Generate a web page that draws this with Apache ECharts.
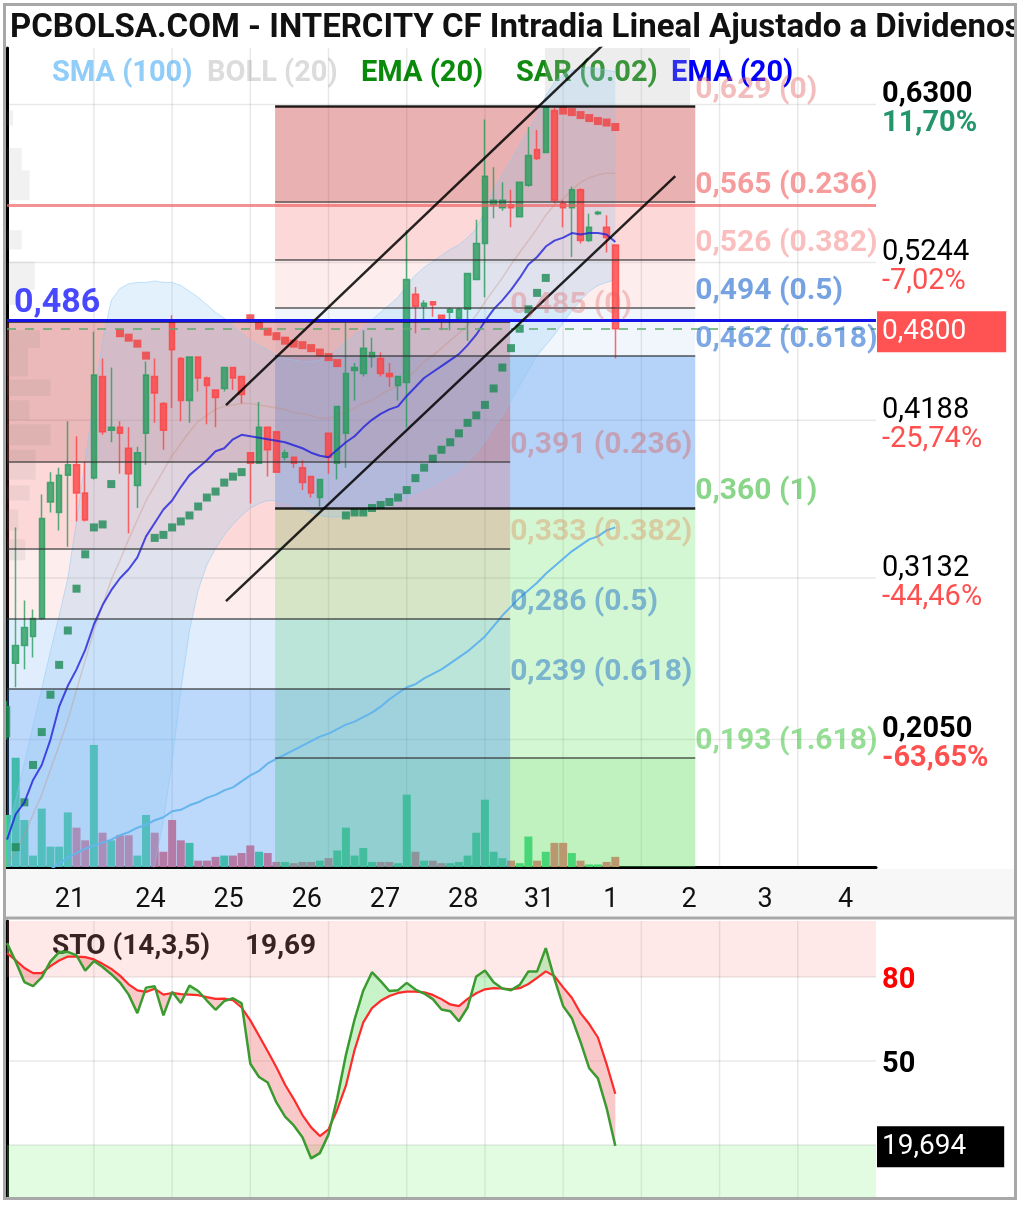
<!DOCTYPE html>
<html><head><meta charset="utf-8">
<script src="https://cdn.jsdelivr.net/npm/echarts@6/dist/echarts.min.js"></script>
<style>html,body{margin:0;padding:0;background:#fff}#c{width:1020px;height:1205px}</style>
</head><body><div id="c"></div>
<script>
// ---------- categories / ticks ----------
const dayLabels = ['21','24','25','26','27','28','31','1','2','3','4'];
const dayLabelPos = [7.25,16.5,25.5,34.5,43.5,52.5,61.25,69.5,78.5,87.25,96.5];
const dayGridPos = [10,19,28,37,46,55,64,73,82,91];
const priceTicks = [0.63,0.5244,0.4188,0.3132,0.205];
const priceTickPct = ['11,70%','-7,02%','-25,74%','-44,46%','-63,65%'];
const stoTicks = [80,50];
// ---------- candles ----------
const open = [0.207,0.256,0.268,0.274,0.286,0.364,0.357,0.382,0.389,0.370,
 0.380,0.448,0.412,0.414,0.400,0.375,0.410,0.448,0.430,0.484,
 0.460,0.432,0.461,0.447,0.439,0.440,0.454,0.448,0.397,0.390,
 0.414,0.411,0.394,0.394,0.387,0.381,0.367,0.410,0.390,0.410,
 0.452,0.450,0.461,0.460,0.450,0.442,0.444,0.503,0.495,0.498,
 0.489,0.491,0.487,0.493,0.513,0.537,0.563,0.561,0.563,0.555,
 0.576,0.600,0.598,0.626,0.564,0.561,0.573,0.539,0.557,0.548,0.536];
const close = [0.227,0.268,0.280,0.286,0.353,0.377,0.382,0.389,0.370,0.352,
 0.449,0.411,0.414,0.410,0.383,0.397,0.449,0.437,0.412,0.466,
 0.432,0.461,0.447,0.442,0.434,0.454,0.447,0.436,0.390,0.414,
 0.399,0.384,0.397,0.390,0.377,0.370,0.379,0.394,0.428,0.450,
 0.454,0.467,0.464,0.450,0.448,0.448,0.513,0.495,0.497,0.496,
 0.487,0.493,0.493,0.517,0.537,0.582,0.566,0.566,0.561,0.578,
 0.596,0.594,0.628,0.566,0.561,0.573,0.539,0.548,0.558,0.541,0.480];
const low = [0.205,0.240,0.252,0.260,0.285,0.357,0.345,0.334,0.351,0.351,
 0.379,0.409,0.404,0.383,0.343,0.360,0.389,0.417,0.399,0.427,
 0.418,0.417,0.438,0.416,0.414,0.438,0.439,0.430,0.363,0.390,
 0.381,0.384,0.392,0.387,0.372,0.367,0.361,0.383,0.379,0.387,
 0.432,0.448,0.454,0.448,0.441,0.432,0.414,0.477,0.486,0.488,
 0.479,0.479,0.486,0.472,0.513,0.501,0.554,0.559,0.548,0.555,
 0.575,0.593,0.598,0.564,0.548,0.528,0.537,0.538,0.556,0.531,0.460];
const high = [0.231,0.347,0.298,0.292,0.369,0.384,0.387,0.418,0.408,0.391,
 0.478,0.460,0.454,0.418,0.414,0.401,0.458,0.460,0.431,0.489,
 0.461,0.461,0.461,0.448,0.439,0.454,0.454,0.448,0.397,0.431,
 0.414,0.411,0.399,0.394,0.392,0.381,0.379,0.410,0.428,0.484,
 0.457,0.479,0.474,0.464,0.457,0.448,0.546,0.508,0.499,0.498,
 0.489,0.494,0.494,0.517,0.553,0.620,0.588,0.578,0.573,0.578,
 0.615,0.613,0.629,0.628,0.566,0.575,0.574,0.557,0.559,0.556,0.536];
const volume = [41,86,37,9,46,16,16,43,31,21,96,27,21,25,25,9,41,27,12,37,
 21,19,5,5,8,9,9,11,17,12,11,4,4,3,4,4,5,7,13,31,
 9,15,4,4,4,3,57,12,5,5,3,3,4,9,27,53,12,7,5,3,
 24,5,12,19,19,11,5,2,2,4,8];
// ---------- indicators ----------
const ema20 = [0.138,0.155,0.163,0.178,0.188,0.205,0.227,0.241,0.252,0.265,
 0.282,0.295,0.305,0.313,0.319,0.327,0.341,0.350,0.359,0.365,
 0.374,0.382,0.387,0.392,0.398,0.400,0.406,0.409,0.408,0.407,
 0.406,0.405,0.404,0.402,0.400,0.397,0.395,0.394,0.399,0.404,
 0.408,0.414,0.419,0.423,0.426,0.428,0.435,0.441,0.447,0.451,
 0.455,0.459,0.463,0.469,0.476,0.485,0.493,0.499,0.506,0.514,
 0.523,0.528,0.535,0.539,0.541,0.544,0.543,0.544,0.544,0.543,0.538];
const sma100 = [null,null,null,null,null,0.118,0.122,0.126,0.129,0.132,
 0.134,0.136,0.138,0.141,0.143,0.146,0.148,0.151,0.153,0.157,
 0.158,0.161,0.163,0.166,0.168,0.171,0.173,0.177,0.181,0.184,
 0.189,0.192,0.195,0.198,0.201,0.204,0.207,0.209,0.212,0.215,
 0.217,0.220,0.223,0.227,0.232,0.236,0.240,0.242,0.246,0.249,
 0.252,0.256,0.260,0.264,0.269,0.274,0.281,0.288,0.294,0.300,
 0.305,0.310,0.316,0.321,0.326,0.331,0.335,0.339,0.341,0.345,0.347];
const bollUp = [0.140,0.165,0.189,0.214,0.239,0.264,0.288,0.313,0.351,0.392,
 0.432,0.472,0.499,0.507,0.510,0.511,0.511,0.512,0.511,0.511,
 0.509,0.505,0.501,0.496,0.491,0.487,0.482,0.477,0.472,0.469,
 0.466,0.462,0.460,0.459,0.458,0.458,0.459,0.462,0.466,0.471,
 0.476,0.480,0.486,0.491,0.496,0.501,0.509,0.516,0.521,0.525,
 0.529,0.533,0.536,0.541,0.547,0.559,0.573,0.583,0.593,0.603,
 0.613,0.623,0.636,0.645,0.650,0.653,0.654,0.655,0.654,0.653,0.652];
const bollMid = [0.121,0.131,0.141,0.155,0.168,0.185,0.201,0.218,0.238,0.258,
 0.278,0.295,0.312,0.325,0.339,0.352,0.365,0.375,0.385,0.395,
 0.403,0.411,0.418,0.422,0.426,0.428,0.429,0.430,0.430,0.429,
 0.428,0.427,0.426,0.424,0.423,0.422,0.420,0.420,0.422,0.424,
 0.427,0.430,0.432,0.436,0.439,0.442,0.447,0.452,0.458,0.462,
 0.467,0.472,0.477,0.482,0.489,0.498,0.506,0.514,0.523,0.531,
 0.539,0.547,0.556,0.563,0.567,0.573,0.578,0.581,0.583,0.584,0.584];
const bollLow = [0.060,0.062,0.064,0.066,0.068,0.070,0.072,0.074,0.076,0.078,
 0.080,0.083,0.086,0.090,0.095,0.101,0.108,0.121,0.151,0.191,
 0.238,0.278,0.305,0.322,0.333,0.342,0.349,0.355,0.360,0.363,
 0.365,0.365,0.364,0.362,0.360,0.357,0.355,0.354,0.354,0.355,
 0.356,0.357,0.359,0.360,0.362,0.365,0.367,0.370,0.373,0.375,
 0.379,0.382,0.385,0.391,0.397,0.405,0.414,0.422,0.432,0.442,
 0.452,0.462,0.469,0.476,0.484,0.492,0.499,0.505,0.509,0.511,0.513];
const sarUp = [null,0.133,0.163,0.188,0.210,0.235,0.255,0.278,0.306,0.329,
 0.347,0.349,0.376,null,null,null,null,0.340,0.342,0.347,
 0.351,0.355,0.361,0.367,0.371,0.377,0.381,0.384,null,null,
 null,null,null,null,null,null,null,null,null,0.355,
 0.357,0.357,0.360,0.362,0.364,0.367,0.372,0.380,0.387,0.393,
 0.399,0.404,0.410,0.417,0.422,0.429,0.440,0.454,0.467,0.480,
 0.493,0.504,0.514,null,null,null,null,null,null,null,null];
const sarDown = [null,null,null,null,null,null,null,null,null,null,
 null,null,null,0.477,0.474,0.470,0.462,null,null,null,
 null,null,null,null,null,null,null,null,0.487,0.482,
 0.478,0.475,0.472,0.470,0.469,0.467,0.464,0.461,0.457,null,
 null,null,null,null,null,null,null,null,null,null,
 null,null,null,null,null,null,null,null,null,null,
 null,null,null,null,0.626,0.625,0.623,0.621,0.619,0.618,0.615];
const stoK = [92.1,85.5,78.2,76.7,79.9,85.6,88.9,89.0,87.7,82.3,
 85.7,83.6,81.0,78.0,73.7,67.1,76.2,76.7,66.3,74.7,
 70.7,76.9,75.0,71.6,68.3,71.4,72.4,70.6,49.0,44.3,
 42.3,35.2,30.1,27.0,22.8,15.2,17.1,23.8,36.7,52.1,
 64.9,75.2,81.7,78.5,75.0,75.3,77.9,75.5,74.1,72.1,
 68.4,67.8,64.2,69.1,80.2,82.3,78.1,75.9,75.3,77.2,
 82.0,82.0,90.3,79.3,69.6,65.3,56.8,47.4,43.8,33.2,19.694];
const stoD = [88.5,86.0,83.2,81.4,81.4,83.9,85.9,87.3,87.3,87.1,
 86.3,84.7,82.9,80.5,77.4,75.2,74.7,75.8,73.7,74.3,
 73.9,73.7,73.5,72.8,72.2,72.3,71.7,69.1,64.5,59.0,
 53.5,47.8,41.5,36.4,30.7,26.3,23.2,25.6,32.6,41.2,
 54.0,63.8,68.9,71.5,73.2,74.3,74.8,74.8,74.5,73.6,
 72.1,70.2,69.6,72.2,74.2,75.6,76.0,75.9,75.6,76.0,
 77.5,79.7,82.0,80.3,76.3,72.6,67.1,63.2,58.4,48.9,38.3];
// ---------- drawings ----------
const fibALevels = [0.629,0.565,0.526,0.494,0.462,0.360,0.193];
const fibARatios = ['0','0.236','0.382','0.5','0.618','1','1.618'];
const fibARange = [30.85,79.2];
const fibBLevels = [0.485,0.391,0.333,0.286,0.239];
const fibBRatios = ['0','0.236','0.382','0.5','0.618'];
const fibBRange = [0,57.9];
const channelUpper = [[25.2,0.4289],[70.5,0.6806]];
const channelLower = [[25.2,0.2977],[76.9,0.5822]];
const lastPrice = 0.48, alertLevel = 0.486, redLevel = 0.5625;
const topBox = [[61.9,0.629],[78.6,0.6679]];
const vpLow  = [0.616,0.586,0.566,0.533,0.506,0.496,0.467,0.448,0.435,0.419,0.402,0.379,0.365,0.345,0.325];
const vpHigh = [0.626,0.601,0.586,0.546,0.525,0.506,0.479,0.467,0.446,0.432,0.416,0.399,0.375,0.359,0.339];
const vpWidth = [0.7,1.7,2.6,1.7,3.2,1.3,3.8,2.4,5.0,2.6,5.0,3.3,2.6,1.3,2.1];

// ---------- styles ----------
const F = 'Roboto, "Noto Sans", sans-serif';
const mainMin = 0.1197, mainMax = 0.6679;
const fibAColors = ['rgba(200,60,60,0.40)','rgba(240,60,60,0.20)','rgba(240,80,80,0.10)','rgba(120,170,230,0.10)','rgba(60,140,240,0.38)','rgba(80,220,80,0.25)','rgba(80,220,80,0.36)'];
const fibBColors = ['rgba(200,60,60,0.36)','rgba(240,60,60,0.20)','rgba(240,80,80,0.10)','rgba(60,140,240,0.16)','rgba(60,140,240,0.34)'];
const fibALabelColors = ['rgba(225,90,90,0.5)','rgba(240,90,90,0.75)','rgba(245,120,120,0.6)','rgba(40,110,210,0.8)','rgba(40,110,210,0.75)','rgba(70,190,70,0.8)','rgba(80,200,80,0.75)'];
const fibBLabelColors = ['rgba(225,90,90,0.4)','rgba(215,100,100,0.55)','rgba(220,150,100,0.55)','rgba(40,120,200,0.65)','rgba(40,120,200,0.65)'];
const fmt = (v,d) => v.toFixed(d).replace('.', ',');
const idx = open.map((_, i) => i);

// bands
const bandAreas = [];
fibALevels.forEach((lv, k) => {
  const lo = k + 1 < fibALevels.length ? fibALevels[k+1] : mainMin;
  bandAreas.push([{coord:[fibARange[0], lv], itemStyle:{color:fibAColors[k]}},{coord:[fibARange[1], lo]}]);
});
fibBLevels.forEach((lv, k) => {
  const lo = k + 1 < fibBLevels.length ? fibBLevels[k+1] : mainMin;
  bandAreas.push([{coord:[fibBRange[0], lv], itemStyle:{color:fibBColors[k]}},{coord:[fibBRange[1], lo]}]);
});
vpLow.forEach((lo, k) => bandAreas.push([{coord:[0, vpHigh[k]], itemStyle:{color:'rgba(120,120,120,0.10)'}},{coord:[vpWidth[k], lo]}]));
bandAreas.push([{coord:topBox[0], itemStyle:{color:'rgba(185,185,185,0.25)'}},{coord:topBox[1]}]);

// fib lines
const fibLines = [];
fibALevels.forEach((lv, k) => {
  const strong = (fibARatios[k] === '0' || fibARatios[k] === '1');
  fibLines.push([{coord:[fibARange[0], lv], lineStyle:{color: strong ? 'rgba(0,0,0,0.85)' : 'rgba(50,50,50,0.6)', width: strong ? 2.5 : 2, type:'solid'}},{coord:[fibARange[1], lv]}]);
});
fibBLevels.forEach((lv, k) => {
  const strong = fibBRatios[k] === '0';
  fibLines.push([{coord:[fibBRange[0], lv], lineStyle:{color: strong ? 'rgba(0,0,0,0.85)' : 'rgba(50,50,50,0.6)', width: strong ? 2.5 : 2, type:'solid'}},{coord:[fibBRange[1], lv]}]);
});

// fib labels
const fibLabelData = [];
fibALevels.forEach((lv, k) => fibLabelData.push({value:[fibARange[1], lv], label:{formatter: fmt(lv,3)+' ('+fibARatios[k]+')', color: fibALabelColors[k]}}));
fibBLevels.forEach((lv, k) => fibLabelData.push({value:[fibBRange[1], lv], label:{formatter: fmt(lv,3)+' ('+fibBRatios[k]+')', color: fibBLabelColors[k]}}));

const candleData = idx.map(i => [i, open[i], close[i], low[i], high[i]]);
const volData = idx.map(i => ({value:[i, volume[i]], itemStyle:{color: close[i] >= open[i] ? 'rgb(70,212,140)' : 'rgb(245,115,130)'}}));

function vGrid(params, api) {
  const cs = params.coordSys; const p = api.coord([api.value(0), api.value(1)]);
  return {type:'line', shape:{x1:p[0], y1:cs.y, x2:p[0], y2:cs.y+cs.height}, style:{stroke:'rgba(0,0,0,0.09)', lineWidth:1.5}};
}
function hGrid(params, api) {
  const cs = params.coordSys; const p = api.coord([api.value(0), api.value(1)]);
  return {type:'line', shape:{x1:cs.x, y1:p[1], x2:cs.x+cs.width, y2:p[1]}, style:{stroke:'rgba(0,0,0,0.09)', lineWidth:1.5}};
}
function bollFill(params, api) {
  if (params.dataIndex !== 0) return;
  const pts = [];
  for (let i = 0; i < bollUp.length; i++) pts.push(api.coord([i, bollUp[i]]));
  for (let i = bollLow.length - 1; i >= 0; i--) pts.push(api.coord([i, bollLow[i]]));
  return {type:'polygon', shape:{points:pts}, style:{fill:'rgba(140,200,245,0.25)'}};
}
function stoFill(params, api) {
  const i = params.dataIndex; if (i >= stoK.length - 1) return;
  const k0 = stoK[i], k1 = stoK[i+1], d0 = stoD[i], d1 = stoD[i+1];
  const a = k0 - d0, b = k1 - d1; const polys = [];
  if (a * b >= 0) polys.push({pts:[[i,k0],[i+1,k1],[i+1,d1],[i,d0]], up:(a+b) >= 0});
  else { const t = a/(a-b), xm = i+t, ym = k0+(k1-k0)*t;
    polys.push({pts:[[i,k0],[xm,ym],[i,d0]], up:a>0});
    polys.push({pts:[[xm,ym],[i+1,k1],[i+1,d1]], up:b>0}); }
  return {type:'group', children: polys.map(p => ({type:'polygon', shape:{points:p.pts.map(q => api.coord(q))}, style:{fill: p.up ? 'rgba(110,220,110,0.38)' : 'rgba(240,110,110,0.38)'}}))};
}

const chart = echarts.init(document.getElementById('c'));
const option = {
  animation: false,
  backgroundColor: '#fff',
  grid: [
    {left:7, top:48, width:869, height:819},
    {left:7, top:740, width:869, height:127},
    {left:7, top:921, width:869, height:280}
  ],
  xAxis: [
    {type:'value', gridIndex:0, min:0, max:100, interval:0.25,
     axisLine:{show:true, lineStyle:{color:'#000', width:3}}, axisTick:{show:false}, splitLine:{show:false},
     axisLabel:{margin:20, fontSize:27, color:'#111', fontFamily:F,
       formatter: v => { const k = dayLabelPos.findIndex(p => Math.abs(p - v) < 0.01); return k >= 0 ? dayLabels[k] : ''; }}},
    {type:'value', gridIndex:1, min:0, max:100, show:false},
    {type:'value', gridIndex:2, min:0, max:100, show:false}
  ],
  yAxis: [
    {type:'value', gridIndex:0, position:'right', min:mainMin, max:mainMax,
     axisLine:{show:true, lineStyle:{color:'#000', width:3}}, axisTick:{show:false}, splitLine:{show:false},
     axisLabel:{show:true, customValues: priceTicks, margin:6, fontFamily:F, align:'left', padding:[10,0,0,0],
       formatter: v => { const k = priceTicks.findIndex(t => Math.abs(t - v) < 1e-6); if (k < 0) return '';
         const bold = (k === 0 || k === priceTicks.length - 1);
         const pc = k === 0 ? 'g' : (bold ? 'rb' : 'r');
         return '{' + (bold ? 'pb' : 'p') + '|' + fmt(priceTicks[k],4) + '}\n{' + pc + '|' + priceTickPct[k] + '}'; },
       rich:{
         p:{fontSize:29, color:'#000', fontFamily:F, lineHeight:29},
         pb:{fontSize:29, color:'#000', fontFamily:F, fontWeight:'bold', lineHeight:29},
         g:{fontSize:29, color:'#22966a', fontFamily:F, fontWeight:'bold', lineHeight:29},
         r:{fontSize:29, color:'#ff5050', fontFamily:F, lineHeight:29},
         rb:{fontSize:29, color:'#ff5050', fontFamily:F, fontWeight:'bold', lineHeight:29}
       }}},
    {type:'value', gridIndex:1, min:0, max:100, show:false},
    {type:'value', gridIndex:2, position:'right', min:0, max:100,
     axisLine:{show:true, lineStyle:{color:'#000', width:3}}, axisTick:{show:false}, splitLine:{show:false},
     axisLabel:{customValues: stoTicks, margin:6, fontFamily:F, fontSize:29, fontWeight:'bold', padding:[8,0,0,0],
       formatter: v => Math.abs(v-80) < 1e-6 ? '{r|80}' : (Math.abs(v-50) < 1e-6 ? '{b|50}' : ''),
       rich:{r:{color:'#ff0000', fontSize:29, fontWeight:'bold', fontFamily:F}, b:{color:'#000', fontSize:29, fontWeight:'bold', fontFamily:F}}}}
  ],
  series: [
    {type:'custom', name:'vgrid', xAxisIndex:0, yAxisIndex:0, z:0, renderItem:vGrid, data: dayGridPos.map(x => [x, 0.4]), silent:true},
    {type:'custom', name:'hgrid', xAxisIndex:0, yAxisIndex:0, z:0, renderItem:hGrid, data: priceTicks.map(p => [50, p]), silent:true},
    {type:'custom', name:'vgrid2', xAxisIndex:2, yAxisIndex:2, z:0, renderItem:vGrid, data: dayGridPos.map(x => [x, 50]), silent:true},
    {type:'custom', name:'hgrid2', xAxisIndex:2, yAxisIndex:2, z:0, renderItem:hGrid, data: [[50,50],[50,80],[50,20]], silent:true},
    {type:'bar', name:'volume', xAxisIndex:1, yAxisIndex:1, data: volData, barWidth:8, z:0, silent:true},
    {type:'scatter', name:'bands', xAxisIndex:0, yAxisIndex:0, data:[[-5,0.3]], symbolSize:0, silent:true,
     markArea:{silent:true, data: bandAreas},
     markLine:{silent:true, precision:4, symbol:['none','none'], label:{show:false}, data: [
        ...fibLines,
        {yAxis: redLevel, lineStyle:{color:'rgba(240,100,100,0.7)', width:3, type:'solid'}},
        {yAxis: alertLevel, lineStyle:{color:'#1414e6', width:3, type:'solid'}},
        {yAxis: lastPrice, lineStyle:{color:'rgba(90,170,110,0.75)', width:2, type:[9,9]},
         label:{show:true, position:'end', distance:1, formatter: fmt(lastPrice,4), color:'#fff', backgroundColor:'#ff5252',
                fontSize:28, fontFamily:F, padding:[7,40,6,5], offset:[0,3]}}
     ]}},
    {type:'custom', name:'bollFill', xAxisIndex:0, yAxisIndex:0, z:2, renderItem:bollFill, clip:true, data: idx.map(i => [i, bollUp[i]]), silent:true},
    {type:'line', name:'bollUp', data: idx.map(i => [i, bollUp[i]]), symbol:'none', z:2, lineStyle:{color:'rgba(140,200,245,0.5)', width:1}, silent:true},
    {type:'line', name:'bollLow', data: idx.map(i => [i, bollLow[i]]), symbol:'none', z:2, lineStyle:{color:'rgba(140,200,245,0.5)', width:1}, silent:true},
    {type:'line', name:'bollMid', data: idx.map(i => [i, bollMid[i]]), symbol:'none', z:2, lineStyle:{color:'rgba(200,140,120,0.35)', width:1.5}, silent:true},
    {type:'candlestick', name:'price', xAxisIndex:0, yAxisIndex:0, data: candleData, barWidth:6, z:3,
     itemStyle:{color:'#1f9a58', color0:'#ff3c3c', borderColor:'#1f9a58', borderColor0:'#ff3c3c', borderWidth:1.5, opacity:0.76}},
    {type:'scatter', name:'sarUp', data: idx.map(i => [i, sarUp[i]]), symbol:'rect', symbolSize:8, z:3, itemStyle:{color:'#1b8a55', opacity:0.8}, silent:true},
    {type:'scatter', name:'sarDown', data: idx.map(i => [i, sarDown[i]]), symbol:'rect', symbolSize:8, z:3, itemStyle:{color:'#f04545', opacity:0.85}, silent:true},
    {type:'line', name:'sma100', data: idx.map(i => [i, sma100[i]]), symbol:'none', z:4, lineStyle:{color:'#64b5ee', width:2}, silent:true},
    {type:'line', name:'ema20', data: idx.map(i => [i, ema20[i]]), symbol:'none', z:4, lineStyle:{color:'#2020dd', width:2, opacity:0.8}, silent:true},
    {type:'line', name:'chanU', data: channelUpper, symbol:'none', z:5, lineStyle:{color:'#000', width:2.5, opacity:0.85}, silent:true},
    {type:'line', name:'chanL', data: channelLower, symbol:'none', z:5, lineStyle:{color:'#000', width:2.5, opacity:0.85}, silent:true},
    {type:'scatter', name:'fibLabels', data: fibLabelData, symbolSize:0, z:6, silent:true,
     label:{show:true, position:[0,0], align:'left', verticalAlign:'bottom', offset:[0,-1], fontSize:30, fontWeight:'bold', fontFamily:F}},
    {type:'scatter', name:'alertTag', data:[{value:[0.8, alertLevel], label:{formatter: fmt(alertLevel,3)}}], symbolSize:0, z:6, silent:true,
     label:{show:true, position:[0,0], align:'left', verticalAlign:'bottom', offset:[0,1], fontSize:34, fontWeight:'bold', color:'#1a1aff', fontFamily:F}},
    // STO
    {type:'scatter', name:'stoBands', xAxisIndex:2, yAxisIndex:2, data:[[-5,50]], symbolSize:0, silent:true,
     markArea:{silent:true, data:[
       [{coord:[0,100], itemStyle:{color:'rgba(255,120,120,0.17)'}},{coord:[100,80]}],
       [{coord:[0,20], itemStyle:{color:'rgba(120,240,120,0.22)'}},{coord:[100,0]}]]}},
    {type:'custom', name:'stoFill', xAxisIndex:2, yAxisIndex:2, z:2, renderItem:stoFill, data: idx.map(i => [i, stoK[i]]), silent:true},
    {type:'line', name:'stoD', xAxisIndex:2, yAxisIndex:2, data: idx.map(i => [i, stoD[i]]), symbol:'none', z:3, lineStyle:{color:'#ff2a2a', width:2.2}, silent:true},
    {type:'line', name:'stoK', xAxisIndex:2, yAxisIndex:2, data: idx.map(i => [i, stoK[i]]), symbol:'none', z:4, lineStyle:{color:'#3b9b30', width:2.5}, silent:true,
     markLine:{silent:true, precision:4, symbol:['none','none'], data:[
       {yAxis: stoK[stoK.length-1], lineStyle:{color:'rgba(0,0,0,0)', width:1},
        label:{show:true, position:'end', distance:1, formatter: fmt(stoK[stoK.length-1],3), color:'#fff', backgroundColor:'#000',
               fontSize:28, fontFamily:F, padding:[7,38,6,5], offset:[0,1]}}]}}
  ],
  graphic: [
    {type:'rect', z:-10, shape:{x:5, y:869, width:1010, height:47}, style:{fill:'#f7f7f7'}, silent:true},
    {type:'text', x:10, y:29, style:{text:'PCBOLSA.COM - INTERCITY CF Intradia Lineal Ajustado a Dividenos', font:'bold 33px Roboto', fill:'#111', verticalAlign:'middle'}},
    {type:'text', x:52, y:74, style:{text:'SMA (100)', font:'bold 29px Roboto', fill:'#90cdf8', verticalAlign:'middle'}},
    {type:'text', x:207, y:74, style:{text:'BOLL (20)', font:'bold 29px Roboto', fill:'#dcdcdc', verticalAlign:'middle'}},
    {type:'text', x:361, y:74, style:{text:'EMA (20)', font:'bold 29px Roboto', fill:'#0a8a0a', verticalAlign:'middle'}},
    {type:'text', x:516, y:74, style:{text:'SAR (0.02)', font:'bold 29px Roboto', fill:'#128a12', verticalAlign:'middle'}},
    {type:'text', x:671, y:74, style:{text:'EMA (20)', font:'bold 29px Roboto', fill:'#0000ff', verticalAlign:'middle'}},
    {type:'text', x:52, y:947, style:{text:'STO (14,3,5)', font:'bold 28px Roboto', fill:'#111', verticalAlign:'middle'}},
    {type:'text', x:245, y:947, style:{text:fmt(stoK[stoK.length-1],2), font:'bold 28px Roboto', fill:'#111', verticalAlign:'middle'}},
    {type:'rect', z:100, shape:{x:1016, y:0, width:4, height:1205}, style:{fill:'#fff'}, silent:true},
    {type:'rect', z:100, shape:{x:0, y:1200, width:1020, height:5}, style:{fill:'#fff'}, silent:true},
    {type:'line', z:101, shape:{x1:4, y1:918, x2:1016, y2:918}, style:{stroke:'#a8a8a8', lineWidth:3}, silent:true},
    {type:'rect', z:101, shape:{x:4.5, y:4.5, width:1011, height:1194}, style:{fill:null, stroke:'#a8a8a8', lineWidth:3}, silent:true}
  ]
};
chart.setOption(option);
</script>
</body></html>
